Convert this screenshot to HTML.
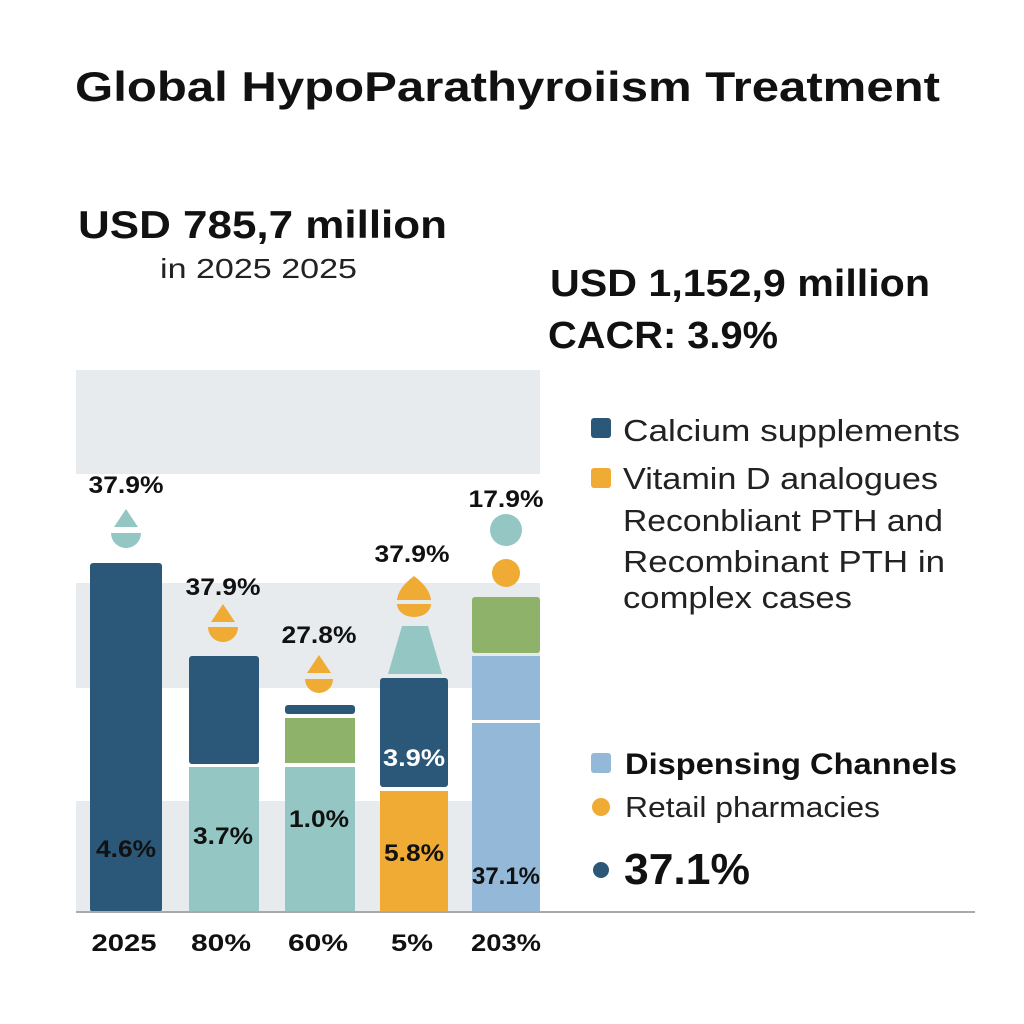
<!DOCTYPE html>
<html><head><meta charset="utf-8"><style>
body{margin:0;background:#fff;}
svg{display:block}
text{font-family:"Liberation Sans",sans-serif;}
</style></head><body>
<svg width="1024" height="1024" viewBox="0 0 1024 1024">
<rect width="1024" height="1024" fill="#fff"/>
<text x="75" y="101" font-size="42" font-weight="bold" fill="#111" textLength="865" lengthAdjust="spacingAndGlyphs">Global HypoParathyroiism Treatment</text>
<text x="78" y="238" font-size="39" font-weight="bold" fill="#111" textLength="369" lengthAdjust="spacingAndGlyphs">USD 785,7 million</text>
<text x="160" y="278" font-size="28" fill="#222" textLength="197" lengthAdjust="spacingAndGlyphs">in 2025 2025</text>
<text x="550" y="296" font-size="38" font-weight="bold" fill="#111" textLength="380" lengthAdjust="spacingAndGlyphs">USD 1,152,9 million</text>
<text x="548" y="348" font-size="38" font-weight="bold" fill="#111" textLength="230" lengthAdjust="spacingAndGlyphs">CACR: 3.9%</text>
<rect x="76" y="370" width="464" height="104" fill="#e7ebee"/>
<rect x="76" y="583" width="464" height="105" fill="#e7ebee"/>
<rect x="76" y="801" width="464" height="111" fill="#e7ebee"/>
<rect x="90" y="563" width="72" height="349" rx="3" fill="#2b5878"/>
<rect x="189" y="656" width="70" height="108" rx="3" fill="#2b5878"/>
<rect x="189" y="767" width="70" height="145" fill="#94c7c3"/>
<rect x="285" y="705" width="70" height="9" rx="3" fill="#2b5878"/>
<rect x="285" y="718" width="70" height="45" fill="#8fb26a"/>
<rect x="285" y="767" width="70" height="145" fill="#94c7c3"/>
<polygon points="402,626 428,626 442,674 388,674" fill="#94c7c3"/>
<rect x="380" y="678" width="68" height="109" rx="3" fill="#2b5878"/>
<rect x="380" y="791" width="68" height="121" fill="#efab33"/>
<rect x="472" y="597" width="68" height="56" rx="3" fill="#8fb26a"/>
<rect x="472" y="656" width="68" height="64" fill="#94b8d8"/>
<rect x="472" y="723" width="68" height="189" fill="#94b8d8"/>
<line x1="76" y1="912" x2="975" y2="912" stroke="#aaa" stroke-width="2"/>
<g fill="#94c7c3"><path d="M126,509 L138,527 L114,527 Z"/><path d="M111,533 L141,533 A15,15 0 0 1 111,533 Z"/></g>
<g fill="#efab33">
<path d="M223,604 L235,622 L211,622 Z"/><path d="M208,627 L238,627 A15,15 0 0 1 208,627 Z"/>
<path d="M319,655 L331,673 L307,673 Z"/><path d="M305,679 L333,679 A14,14 0 0 1 305,679 Z"/>
<path d="M414,576 Q430,588 431,600 L397,600 Q398,588 414,576 Z"/><path d="M397,604 L431,604 A17,13 0 0 1 397,604 Z"/>
<circle cx="506" cy="573" r="14"/>
</g>
<circle cx="506" cy="530" r="16" fill="#94c7c3"/>
<g font-size="24" font-weight="bold" fill="#111" text-anchor="middle">
<text x="126" y="493" textLength="75" lengthAdjust="spacingAndGlyphs">37.9%</text>
<text x="223" y="595" textLength="75" lengthAdjust="spacingAndGlyphs">37.9%</text>
<text x="319" y="643" textLength="75" lengthAdjust="spacingAndGlyphs">27.8%</text>
<text x="412" y="562" textLength="75" lengthAdjust="spacingAndGlyphs">37.9%</text>
<text x="506" y="507" textLength="75" lengthAdjust="spacingAndGlyphs">17.9%</text>
<text x="126" y="857" textLength="60" lengthAdjust="spacingAndGlyphs">4.6%</text>
<text x="223" y="844" textLength="60" lengthAdjust="spacingAndGlyphs">3.7%</text>
<text x="319" y="827" textLength="60" lengthAdjust="spacingAndGlyphs">1.0%</text>
<text x="414" y="861" textLength="60" lengthAdjust="spacingAndGlyphs">5.8%</text>
<text x="506" y="884" textLength="68" lengthAdjust="spacingAndGlyphs">37.1%</text>
<text x="414" y="766" fill="#fff" textLength="62" lengthAdjust="spacingAndGlyphs">3.9%</text>
</g>
<g font-size="24" font-weight="bold" fill="#111" text-anchor="middle">
<text x="124" y="951" textLength="65" lengthAdjust="spacingAndGlyphs">2025</text>
<text x="221" y="951" textLength="60" lengthAdjust="spacingAndGlyphs">80%</text>
<text x="318" y="951" textLength="60" lengthAdjust="spacingAndGlyphs">60%</text>
<text x="412" y="951" textLength="42" lengthAdjust="spacingAndGlyphs">5%</text>
<text x="506" y="951" textLength="70" lengthAdjust="spacingAndGlyphs">203%</text>
</g>
<rect x="591" y="418" width="20" height="20" rx="3" fill="#2b5878"/>
<rect x="591" y="468" width="20" height="20" rx="3" fill="#efab33"/>
<g font-size="31" fill="#222">
<text x="623" y="441" textLength="337" lengthAdjust="spacingAndGlyphs">Calcium supplements</text>
<text x="623" y="489" textLength="315" lengthAdjust="spacingAndGlyphs">Vitamin D analogues</text>
<text x="623" y="531" textLength="320" lengthAdjust="spacingAndGlyphs">Reconbliant PTH and</text>
<text x="623" y="572" textLength="322" lengthAdjust="spacingAndGlyphs">Recombinant PTH in</text>
<text x="623" y="608" textLength="229" lengthAdjust="spacingAndGlyphs">complex cases</text>
</g>
<rect x="591" y="753" width="20" height="20" rx="3" fill="#94b8d8"/>
<text x="625" y="774" font-size="30" font-weight="bold" fill="#111" textLength="332" lengthAdjust="spacingAndGlyphs">Dispensing Channels</text>
<circle cx="601" cy="807" r="9" fill="#efab33"/>
<text x="625" y="817" font-size="29" fill="#222" textLength="255" lengthAdjust="spacingAndGlyphs">Retail pharmacies</text>
<circle cx="601" cy="870" r="8" fill="#2b5878"/>
<text x="624" y="884" font-size="44" font-weight="bold" fill="#111" textLength="126" lengthAdjust="spacingAndGlyphs">37.1%</text>
</svg>
</body></html>
